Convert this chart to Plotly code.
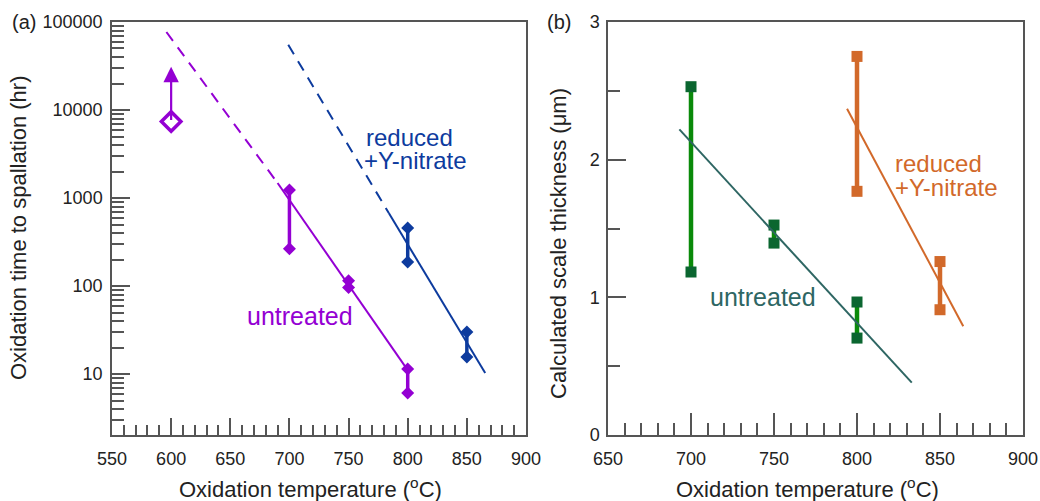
import math
import plotly.graph_objects as go

# ---------------- data ----------------
# Panel (a): oxidation time to spallation (hr) vs temperature
a_untreated_temp = [700, 750, 800]
a_untreated_hi = [1230, 115, 11.4]
a_untreated_lo = [265, 96, 6.1]
a_untreated_open_temp = [600]
a_untreated_open_val = [7400]
a_untreated_arrow_top = [31000]
a_untreated_fit_dash_x = [596, 690]
a_untreated_fit_dash_y = [77000, 1480]
a_untreated_fit_solid_x = [690, 800]
a_untreated_fit_solid_y = [1480, 11.1]

a_reduced_temp = [800, 850]
a_reduced_hi = [457, 30]
a_reduced_lo = [187, 15.6]
a_reduced_fit_dash_x = [699, 784]
a_reduced_fit_dash_y = [55000, 675]
a_reduced_fit_solid_x = [784, 865.5]
a_reduced_fit_solid_y = [675, 10.3]

# Panel (b): calculated scale thickness (um)
b_untreated_temp = [700, 750, 800]
b_untreated_hi = [2.53, 1.525, 0.966]
b_untreated_lo = [1.184, 1.394, 0.704]
b_untreated_fit_x = [693, 833]
b_untreated_fit_y = [2.22, 0.38]

b_reduced_temp = [800, 850]
b_reduced_hi = [2.75, 1.26]
b_reduced_lo = [1.77, 0.91]
b_reduced_fit_x = [794, 864]
b_reduced_fit_y = [2.37, 0.79]

xticks_a = [550, 600, 650, 700, 750, 800, 850, 900]
yticks_a = [10, 100, 1000, 10000, 100000]
xticks_b = [650, 700, 750, 800, 850, 900]
yticks_b = [0, 1, 2, 3]

PURPLE = "#9400D3"
BLUE = "#0D3B9E"
GREEN_BAR = "#0A8A0A"
GREEN_MK = "#0B6630"
TEAL = "#2E6663"
ORANGE = "#D2692A"
AXC = "#555555"
TXT = "#222222"
FONT = "Liberation Sans, Arial, sans-serif"


def bars(temps, hi, lo):
    xs, ys = [], []
    for t, h, l in zip(temps, hi, lo):
        xs += [t, t, None]
        ys += [h, l, None]
    return xs, ys


fig = go.Figure()

# ---- panel (a) ----
x, y = bars(a_untreated_temp, a_untreated_hi, a_untreated_lo)
fig.add_trace(go.Scatter(x=x, y=y, mode="lines+markers", xaxis="x", yaxis="y",
                         line=dict(color=PURPLE, width=3.5),
                         marker=dict(symbol="diamond", size=10, color=PURPLE)))
fig.add_trace(go.Scatter(x=a_untreated_fit_dash_x, y=a_untreated_fit_dash_y, mode="lines",
                         xaxis="x", yaxis="y", line=dict(color=PURPLE, width=2, dash="11px,8px")))
fig.add_trace(go.Scatter(x=a_untreated_fit_solid_x, y=a_untreated_fit_solid_y, mode="lines",
                         xaxis="x", yaxis="y", line=dict(color=PURPLE, width=2)))
fig.add_trace(go.Scatter(x=a_untreated_open_temp, y=a_untreated_open_val, mode="markers",
                         xaxis="x", yaxis="y",
                         marker=dict(symbol="diamond-open", size=15, color=PURPLE,
                                     line=dict(width=3.5, color=PURPLE))))

x, y = bars(a_reduced_temp, a_reduced_hi, a_reduced_lo)
fig.add_trace(go.Scatter(x=x, y=y, mode="lines+markers", xaxis="x", yaxis="y",
                         line=dict(color=BLUE, width=3.5),
                         marker=dict(symbol="diamond", size=10, color=BLUE)))
fig.add_trace(go.Scatter(x=a_reduced_fit_dash_x, y=a_reduced_fit_dash_y, mode="lines",
                         xaxis="x", yaxis="y", line=dict(color=BLUE, width=2, dash="11px,8px")))
fig.add_trace(go.Scatter(x=a_reduced_fit_solid_x, y=a_reduced_fit_solid_y, mode="lines",
                         xaxis="x", yaxis="y", line=dict(color=BLUE, width=2)))

# ---- panel (b) ----
x, y = bars(b_untreated_temp, b_untreated_hi, b_untreated_lo)
fig.add_trace(go.Scatter(x=x, y=y, mode="lines", xaxis="x2", yaxis="y2",
                         line=dict(color=GREEN_BAR, width=4.5)))
fig.add_trace(go.Scatter(x=x, y=y, mode="markers", xaxis="x2", yaxis="y2",
                         marker=dict(symbol="square", size=11, color=GREEN_MK)))
fig.add_trace(go.Scatter(x=b_untreated_fit_x, y=b_untreated_fit_y, mode="lines",
                         xaxis="x2", yaxis="y2", line=dict(color=TEAL, width=2)))

x, y = bars(b_reduced_temp, b_reduced_hi, b_reduced_lo)
fig.add_trace(go.Scatter(x=x, y=y, mode="lines+markers", xaxis="x2", yaxis="y2",
                         line=dict(color=ORANGE, width=4.5),
                         marker=dict(symbol="square", size=11, color=ORANGE)))
fig.add_trace(go.Scatter(x=b_reduced_fit_x, y=b_reduced_fit_y, mode="lines",
                         xaxis="x2", yaxis="y2", line=dict(color=ORANGE, width=2)))

# ---- axes ----
H = 501.0
W = 1040.0
ydom = [(H - 435) / H, (H - 22) / H]
minor_a = [m * 10 ** e for e in range(0, 5) for m in range(2, 10) if m * 10 ** e > 2.03]

common = dict(showgrid=False, zeroline=False, showline=True, linecolor=AXC, linewidth=1.5,
              mirror=True, ticks="inside", tickcolor=AXC, tickwidth=1.5, automargin=False,
              tickfont=dict(family=FONT, size=18, color=TXT))

fig.update_layout(
    template="none",
    xaxis=dict(domain=[112 / W, 526 / W], range=[550, 900], anchor="y",
               tickmode="array", tickvals=xticks_a, ticklen=17, ticklabelstandoff=7,
               minor=dict(dtick=10, tick0=550, ticks="inside", ticklen=10, tickcolor=AXC,
                          tickwidth=1.5, showgrid=False),
               **common),
    yaxis=dict(domain=ydom, type="log", range=[math.log10(2.03), 5], anchor="x",
               tickmode="array", tickvals=yticks_a, ticktext=[str(v) for v in yticks_a], ticklen=18,
               ticklabelstandoff=4,
               minor=dict(tickmode="array", tickvals=minor_a, ticks="inside", ticklen=12,
                          tickcolor=AXC, tickwidth=1.5, showgrid=False),
               **common),
    xaxis2=dict(domain=[608 / W, 1023 / W], range=[650, 900], anchor="y2",
                tickmode="array", tickvals=xticks_b, ticklen=22, ticklabelstandoff=7,
                minor=dict(dtick=10, tick0=650, ticks="inside", ticklen=12, tickcolor=AXC,
                           tickwidth=1.5, showgrid=False),
                **common),
    yaxis2=dict(domain=ydom, range=[0, 3], anchor="x2",
                tickmode="array", tickvals=yticks_b, ticklen=18, ticklabelstandoff=3,
                minor=dict(dtick=0.5, tick0=0, ticks="inside", ticklen=12, tickcolor=AXC,
                           tickwidth=1.5, showgrid=False),
                **common),
    width=1040, height=501,
    margin=dict(l=0, r=0, t=0, b=0, pad=0),
    paper_bgcolor="white", plot_bgcolor="white",
    showlegend=False,
    font=dict(family=FONT, color=TXT),
)

ann = []
# arrow at 600 C
ann.append(dict(x=a_untreated_open_temp[0], y=math.log10(a_untreated_arrow_top[0]),
                ax=a_untreated_open_temp[0], ay=math.log10(a_untreated_open_val[0]),
                xref="x", yref="y", axref="x", ayref="y", text="", showarrow=True,
                arrowhead=2, arrowsize=1.4, arrowwidth=2.2, arrowcolor=PURPLE))


def txt(x, y, s, color, xref, yref, size=24, xanchor="center", yanchor="middle", **kw):
    d = dict(x=x, y=y, text=s, xref=xref, yref=yref, showarrow=False,
             xanchor=xanchor, yanchor=yanchor,
             font=dict(family=FONT, size=size, color=color))
    d.update(kw)
    ann.append(d)


txt(662.5, 1.659, "untreated", PURPLE, "x", "y", xanchor="left", size=25)
txt(763, 3.693, "reduced", BLUE, "x", "y", xanchor="left")
txt(761, 3.432, "+Y-nitrate", BLUE, "x", "y", xanchor="left")
txt(710.5, 1.0, "untreated", TEAL, "x2", "y2", xanchor="left", size=25)
txt(821.5, 1.975, "reduced", ORANGE, "x2", "y2", xanchor="left")
txt(821.5, 1.80, "+Y-nitrate", ORANGE, "x2", "y2", xanchor="left")

# panel labels
txt(10 / W, (H - 22) / H, "(a)", TXT, "paper", "paper", size=20, xanchor="left")
txt(545 / W, (H - 22) / H, "(b)", TXT, "paper", "paper", size=20, xanchor="left")

# axis titles
txt(18 / W, (H - 228) / H, "Oxidation time to spallation (hr)", TXT, "paper", "paper",
    size=22, textangle=-90)
txt(558 / W, (H - 244) / H, "Calculated scale thickness (\u03bcm)", TXT, "paper", "paper",
    size=22, textangle=-90)
txt(310 / W, (H - 488) / H, "Oxidation temperature (<sup>o</sup>C)", TXT, "paper", "paper",
    size=22)
txt(807 / W, (H - 488) / H, "Oxidation temperature (<sup>o</sup>C)", TXT, "paper", "paper",
    size=22)

fig.update_layout(annotations=ann)

fig.write_html("out.html", config={"displayModeBar": False},
               post_script="document.body.style.margin='0';document.body.style.overflow='hidden';")
